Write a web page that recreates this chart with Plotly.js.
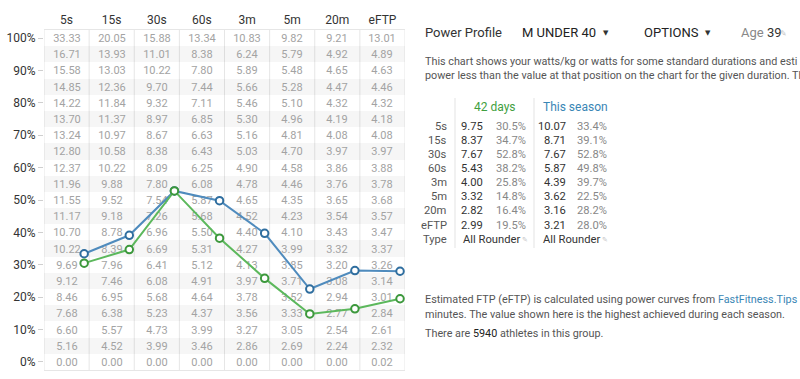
<!DOCTYPE html>
<html>
<head>
<meta charset="utf-8">
<script src="https://cdn.plot.ly/plotly-3.0.1.min.js"></script>
<style>
html,body{margin:0;padding:0;background:#fff;}
#chart{width:800px;height:379px;}
</style>
</head>
<body>
<div id="chart"></div>
<script>
// ---- data ----
const durations = ['5s','15s','30s','60s','3m','5m','20m','eFTP'];
const percentiles = [0,5,10,15,20,25,30,35,40,45,50,55,60,65,70,75,80,85,90,95,100];
// each column: values from 0% up to 100%
const col5s  = [0.00,5.16,6.60,7.68,8.46,9.12,9.69,10.22,10.70,11.17,11.55,11.96,12.37,12.80,13.24,13.70,14.22,14.85,15.58,16.71,33.33];
const col15s = [0.00,4.52,5.57,6.38,6.95,7.46,7.96,8.39,8.78,9.18,9.52,9.88,10.22,10.58,10.97,11.37,11.84,12.36,13.03,13.93,20.05];
const col30s = [0.00,3.99,4.73,5.23,5.68,6.08,6.41,6.69,6.96,7.26,7.54,7.80,8.09,8.38,8.67,8.97,9.32,9.70,10.22,11.01,15.88];
const col60s = [0.00,3.46,3.99,4.37,4.64,4.91,5.12,5.31,5.50,5.68,5.87,6.08,6.25,6.43,6.63,6.85,7.11,7.44,7.80,8.38,13.34];
const col3m  = [0.00,2.86,3.27,3.56,3.78,3.97,4.13,4.27,4.40,4.52,4.65,4.78,4.90,5.03,5.16,5.30,5.46,5.66,5.89,6.24,10.83];
const col5m  = [0.00,2.69,3.05,3.33,3.52,3.71,3.85,3.99,4.10,4.23,4.35,4.46,4.58,4.70,4.81,4.96,5.10,5.28,5.48,5.79,9.82];
const col20m = [0.00,2.24,2.54,2.77,2.94,3.08,3.20,3.32,3.43,3.54,3.65,3.76,3.86,3.97,4.08,4.19,4.32,4.47,4.65,4.92,9.21];
const colEftp= [0.02,2.32,2.61,2.84,3.01,3.14,3.26,3.37,3.47,3.57,3.68,3.78,3.88,3.97,4.08,4.18,4.32,4.46,4.63,4.89,13.01];
const yTickVals = [0,10,20,30,40,50,60,70,80,90,100];

const days42Pct  = [30.5,34.7,52.8,38.2,25.8,14.8,16.4,19.5];
const seasonPct  = [33.4,39.1,52.8,49.8,39.7,22.5,28.2,28.0];
const days42Wkg  = ['9.75','8.37','7.67','5.43','4.00','3.32','2.82','2.99'];
const seasonWkg  = ['10.07','8.71','7.67','5.87','4.39','3.62','3.16','3.21'];
const athleteCount = 5940;

// ---- build ----
const columns = [col5s,col15s,col30s,col60s,col3m,col5m,col20m,colEftp];
const colIdx = durations.map((d,i)=>i);
const z = percentiles.map((p,r)=>durations.map(()=> (r%2===1?1:0)));
const txt = percentiles.map((p,r)=>columns.map(c=>c[r].toFixed(2)));

const FONT = 'Roboto, "Open Sans", sans-serif';
const BLUE = '#4f8bbd', BLUE_D = '#2f6e9f';
const GREEN = '#5cb85c', GREEN_D = '#3c983c';
const markerOffset = 0.39;

const heat = {
  type:'heatmap', x: colIdx, y: percentiles, z: z, text: txt,
  texttemplate:'%{text}', textfont:{family:FONT, size:11, color:'#a3a3a3'},
  colorscale:[[0,'rgba(255,255,255,0)'],[1,'rgba(0,0,0,0.035)']],
  zmin:0, zmax:1, showscale:false, hoverinfo:'skip'
};
const seasonTrace = {
  type:'scatter', mode:'lines+markers',
  x: colIdx.map(i=>i+markerOffset), y: seasonPct,
  line:{color:BLUE, width:2},
  marker:{size:7.5, color:'#ffffff', line:{color:BLUE_D, width:2}},
  hoverinfo:'skip', showlegend:false
};
const daysTrace = {
  type:'scatter', mode:'lines+markers',
  x: colIdx.map(i=>i+markerOffset), y: days42Pct,
  line:{color:GREEN, width:2},
  marker:{size:7.5, color:'#ffffff', line:{color:GREEN_D, width:2}},
  hoverinfo:'skip', showlegend:false
};

// plot area in px
const L=44, R=405, T=30, B=370;
const px = x => (x-L)/(R-L);
const py = y => (B-y)/(B-T);

const ann = [];
function A(text,x,y,o){
  ann.push(Object.assign({text:text, xref:'paper', yref:'paper', x:px(x), y:py(y),
    xanchor:'left', yanchor:'middle', showarrow:false,
    font:{family:FONT, size:10.8, color:'#555'}}, o||{}));
}
// header
A('Power Profile',423,33,{font:{family:FONT,size:13,color:'#333'}});
A('M UNDER 40',520,33,{font:{family:FONT,size:13,color:'#222'}});
A('▼',601,33,{font:{family:'DejaVu Sans',size:7,color:'#333'}});
A('OPTIONS',642,33,{font:{family:FONT,size:13,color:'#222'}});
A('▼',703,33,{font:{family:'DejaVu Sans',size:7,color:'#333'}});
A('Age <span style="color:#333">39</span>',739,33,{font:{family:FONT,size:13,color:'#888'}});
A('✎',778,34,{font:{family:'DejaVu Sans',size:8,color:'#c4c4c4'}});
A('This chart shows your watts/kg or watts for some standard durations and esti',423,61);
A('power less than the value at that position on the chart for the given duration. Th',423,76);

// small table
A('42 days',495,107,{xanchor:'center',font:{family:FONT,size:12,color:'#3f9f3f'}});
A('This season',575,107,{xanchor:'center',font:{family:FONT,size:12,color:'#3a86b5'}});
const rowY0 = 126, rowStep = 14.15;
const TF = 11.2;
durations.forEach((d,i)=>{
  const y = rowY0 + i*rowStep;
  A(d,449,y,{xanchor:'right',font:{family:FONT,size:TF,color:'#555'}});
  A(days42Wkg[i],485,y,{xanchor:'right',font:{family:FONT,size:TF,color:'#333'}});
  A(days42Pct[i].toFixed(1)+'%',528,y,{xanchor:'right',font:{family:FONT,size:TF,color:'#888'}});
  A(seasonWkg[i],568,y,{xanchor:'right',font:{family:FONT,size:TF,color:'#333'}});
  A(seasonPct[i].toFixed(1)+'%',609,y,{xanchor:'right',font:{family:FONT,size:TF,color:'#888'}});
});
const typeY = rowY0 + durations.length*rowStep;
A('Type',449,typeY,{xanchor:'right',font:{family:FONT,size:TF,color:'#555'}});
A('All Rounder',461,typeY,{font:{family:FONT,size:TF,color:'#333'}});
A('✎',520,typeY+1,{font:{family:'DejaVu Sans',size:7,color:'#c4c4c4'}});
A('All Rounder',541,typeY,{font:{family:FONT,size:TF,color:'#333'}});
A('✎',600,typeY+1,{font:{family:'DejaVu Sans',size:7,color:'#c4c4c4'}});

// bottom text
A('Estimated FTP (eFTP) is calculated using power curves from <span style="color:#3a86b5">FastFitness.Tips</span>',423,299);
A('minutes. The value shown here is the highest achieved during each season.',423,314);
A('There are <span style="color:#222">'+athleteCount+'</span> athletes in this group.',423,333);

// shapes: column separators of the grid and table separators
const shapes = [];
for(let i=0;i<=durations.length;i++){
  shapes.push({type:'line', xref:'x', yref:'paper', x0:i-0.5, x1:i-0.5, y0:0, y1:1,
    line:{color:'#e6e6e6', width:1}, layer:'below'});
}
[455,534].forEach(x=>shapes.push({type:'line', xref:'paper', yref:'paper',
  x0:px(x), x1:px(x), y0:py(98), y1:py(248), line:{color:'#e3e3e3', width:1}}));

const layout = {
  width:800, height:379,
  margin:{l:L, r:800-R, t:T, b:379-B, pad:0},
  paper_bgcolor:'#fff', plot_bgcolor:'#fff',
  font:{family:FONT, size:12, color:'#333'},
  showlegend:false,
  xaxis:{range:[-0.5,durations.length-0.5], side:'top', tickmode:'array',
    tickvals:colIdx, ticktext:durations, showgrid:false, zeroline:false,
    ticks:'', tickfont:{family:FONT,size:12,color:'#333'}, fixedrange:true,
    showline:true, linecolor:'#e6e6e6', mirror:true},
  yaxis:{range:[-2.5,102.5], tickmode:'array', tickvals:yTickVals,
    ticktext:yTickVals.map(v=>v+'%'), showgrid:false, zeroline:false,
    ticks:'outside', ticklen:5, tickcolor:'#cfcfcf', tickfont:{family:FONT,size:12,color:'#333'},
    fixedrange:true, showline:false},
  annotations: ann,
  shapes: shapes
};
Plotly.newPlot('chart',[heat,seasonTrace,daysTrace],layout,{displayModeBar:false,staticPlot:true});
</script>
</body>
</html>
